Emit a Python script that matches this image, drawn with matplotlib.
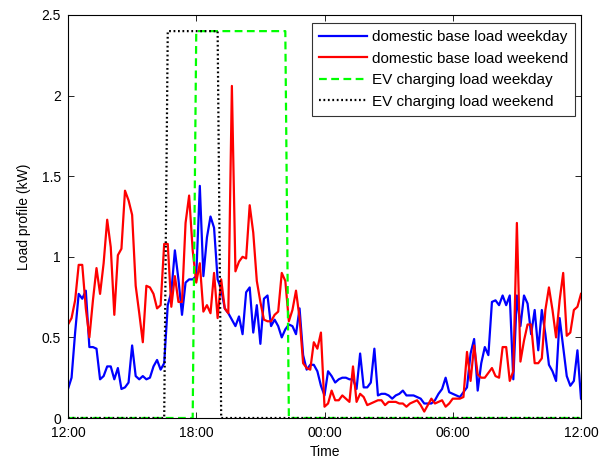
import matplotlib
matplotlib.use("Agg")
import matplotlib.pyplot as plt
import numpy as np

plt.rcParams['font.family'] = ['Liberation Sans', 'DejaVu Sans']

# 10-minute samples from 12:00 to 12:00 next day (hours since 12:00)
hours = [i / 6 for i in range(145)]

weekday_base = [
    0.18, 0.25, 0.53, 0.77, 0.74, 0.79, 0.44, 0.44, 0.43, 0.24,
    0.26, 0.32, 0.32, 0.24, 0.31, 0.18, 0.19, 0.22, 0.45, 0.26,
    0.24, 0.26, 0.24, 0.25, 0.32, 0.36, 0.30, 0.34, 0.70, 0.78,
    1.04, 0.86, 0.64, 0.84, 0.86, 0.86, 0.88, 1.44, 0.88, 1.12,
    1.25, 1.18, 0.86, 0.80, 0.68, 0.65, 0.61, 0.57, 0.63, 0.52,
    0.78, 0.81, 0.53, 0.70, 0.46, 0.74, 0.76, 0.57, 0.61, 0.57,
    0.50, 0.55, 0.58, 0.57, 0.52, 0.68, 0.39, 0.30, 0.33, 0.33,
    0.29, 0.20, 0.14, 0.29, 0.26, 0.22, 0.24, 0.25, 0.25, 0.24,
    0.24, 0.18, 0.40, 0.19, 0.19, 0.22, 0.43, 0.14, 0.15, 0.15,
    0.14, 0.12, 0.14, 0.15, 0.17, 0.14, 0.14, 0.14, 0.13, 0.12,
    0.09, 0.09, 0.09, 0.11, 0.15, 0.18, 0.25, 0.16, 0.15, 0.14,
    0.13, 0.16, 0.19, 0.40, 0.49, 0.17, 0.34, 0.44, 0.39, 0.72,
    0.73, 0.70, 0.76, 0.70, 0.76, 0.24, 0.76, 0.57, 0.76, 0.71,
    0.52, 0.67, 0.42, 0.67, 0.52, 0.33, 0.29, 0.23, 0.62, 0.44,
    0.26, 0.20, 0.23, 0.42, 0.12,
]

weekend_base = [
    0.58, 0.62, 0.73, 0.95, 0.95, 0.68, 0.50, 0.73, 0.93, 0.77,
    0.96, 1.23, 1.06, 0.64, 1.01, 1.05, 1.41, 1.35, 1.26, 0.82,
    0.65, 0.47, 0.82, 0.81, 0.77, 0.68, 0.70, 1.08, 1.08, 0.69,
    0.88, 0.72, 0.72, 1.21, 1.38, 1.04, 0.84, 0.96, 0.66, 0.70,
    0.65, 0.90, 0.62, 0.86, 0.68, 0.65, 2.06, 0.91, 0.97, 1.00,
    0.99, 1.32, 1.15, 0.85, 0.72, 0.61, 0.60, 0.60, 0.64, 0.66,
    0.90, 0.85, 0.60, 0.67, 0.79, 0.62, 0.34, 0.31, 0.30, 0.47,
    0.43, 0.53, 0.07, 0.09, 0.17, 0.11, 0.11, 0.14, 0.12, 0.10,
    0.32, 0.10, 0.15, 0.13, 0.08, 0.09, 0.10, 0.11, 0.11, 0.08,
    0.10, 0.10, 0.10, 0.09, 0.09, 0.07, 0.09, 0.10, 0.11, 0.08,
    0.04, 0.08, 0.12, 0.09, 0.10, 0.11, 0.07, 0.09, 0.12, 0.12,
    0.12, 0.13, 0.41, 0.23, 0.45, 0.27, 0.25, 0.25, 0.28, 0.31,
    0.26, 0.25, 0.44, 0.44, 0.23, 0.29, 1.21, 0.35, 0.48, 0.58,
    0.58, 0.34, 0.34, 0.37, 0.67, 0.81, 0.67, 0.50, 0.73, 0.90,
    0.51, 0.53, 0.67, 0.69, 0.77,
]

# EV charging profiles (breakpoints, hours since 12:00)
ev_weekday_hours = [0, 35 / 6, 36 / 6, 61 / 6, 62 / 6, 24]
ev_weekday_load = [0, 0, 2.4, 2.4, 0, 0]
ev_weekend_hours = [0, 27 / 6, 28 / 6, 42 / 6, 43 / 6, 24]
ev_weekend_load = [0, 0, 2.4, 2.4, 0, 0]

xtick_pos = [0, 6, 12, 18, 24]
xtick_labels = ["12:00", "18:00", "00:00", "06:00", "12:00"]
ytick_pos = [0, 0.5, 1, 1.5, 2, 2.5]
ytick_labels = ["0", "0.5", "1", "1.5", "2", "2.5"]

fig = plt.figure(figsize=(6.1, 4.58), dpi=100)
ax = fig.add_axes([68 / 610, 1 - 418 / 458, (581 - 68) / 610, (418 - 15) / 458])

ax.plot(hours, weekday_base, color=(0, 0, 1), lw=1.6, label="domestic base load weekday")
ax.plot(hours, weekend_base, color=(1, 0, 0), lw=1.6, label="domestic base load weekend")
ax.plot(ev_weekday_hours, ev_weekday_load, color=(0, 1, 0), lw=1.6, ls=(0, (3.5, 2)),
        label="EV charging load weekday")
ax.plot(ev_weekend_hours, ev_weekend_load, color="black", lw=1.6, ls=(0, (0.8, 1.2)),
        label="EV charging load weekend")

ax.set_xlim(0, 24)
ax.set_ylim(0, 2.5)
ax.set_xticks(xtick_pos)
ax.set_xticklabels(xtick_labels)
ax.set_yticks(ytick_pos)
ax.set_yticklabels(ytick_labels)
ax.tick_params(direction="in", top=True, right=True, labelsize=10, length=4, width=0.6)
ax.tick_params(axis="x", pad=6)
ax.tick_params(axis="y", pad=5)
for s in ax.spines.values():
    s.set_linewidth(0.8)
ax.set_xlabel("Time", fontsize=10, labelpad=3)
ax.set_ylabel("Load profile (kW)", fontsize=10, labelpad=8)

leg = ax.legend(loc="upper right", fontsize=11, frameon=True, fancybox=False,
                edgecolor="black", handlelength=3.1, handletextpad=0.35,
                borderpad=0.45, labelspacing=0.5, borderaxespad=0,
                bbox_to_anchor=(1 - 6 / 513, 1 - 8 / 403))
leg.get_frame().set_linewidth(0.8)

fig.savefig("out.png", dpi=100)
